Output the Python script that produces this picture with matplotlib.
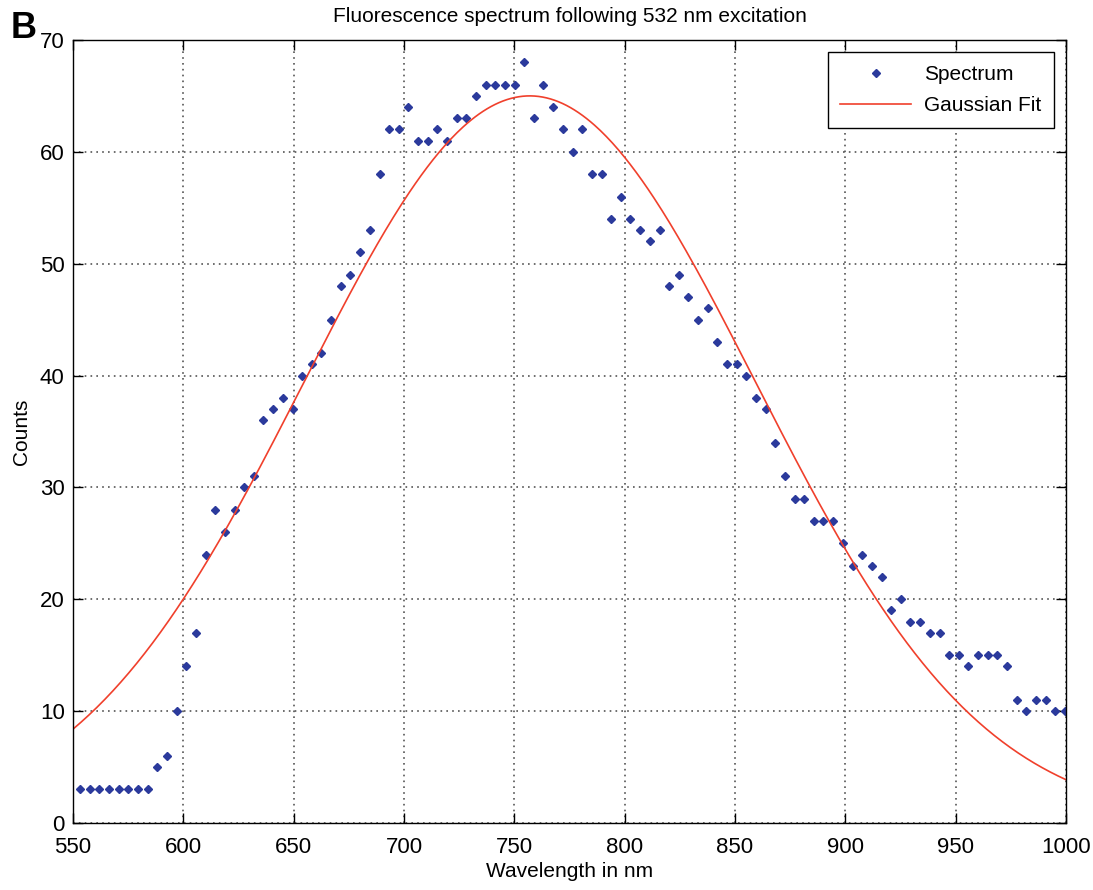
import numpy as np
import matplotlib
matplotlib.use('Agg')
import matplotlib.pyplot as plt

plt.rcParams['font.family'] = ['Liberation Sans', 'DejaVu Sans']

wavelength = [553.2, 557.6, 562.0, 566.3, 570.7, 575.1, 579.5, 583.8, 588.2, 592.6,
              597.0, 601.3, 605.7, 610.1, 614.5, 618.8, 623.2, 627.6, 632.0, 636.3,
              640.7, 645.1, 649.5, 653.8, 658.2, 662.6, 667.0, 671.4, 675.7, 680.1,
              684.5, 688.9, 693.2, 697.6, 702.0, 706.4, 710.7, 715.1, 719.5, 723.9,
              728.2, 732.6, 737.0, 741.4, 745.7, 750.1, 754.5, 758.9, 763.2, 767.6,
              772.0, 776.4, 780.7, 785.1, 789.5, 793.9, 798.2, 802.6, 807.0, 811.4,
              815.8, 820.1, 824.5, 828.9, 833.3, 837.6, 842.0, 846.4, 850.8, 855.1,
              859.5, 863.9, 868.3, 872.6, 877.0, 881.4, 885.8, 890.1, 894.5, 898.9,
              903.3, 907.6, 912.0, 916.4, 920.8, 925.2, 929.5, 933.9, 938.3, 942.7,
              947.0, 951.4, 955.8, 960.2, 964.5, 968.9, 973.3, 977.7, 982.0, 986.4,
              990.8, 995.2, 999.5]
counts = [3, 3, 3, 3, 3, 3, 3, 3, 5, 6,
          10, 14, 17, 24, 28, 26, 28, 30, 31, 36,
          37, 38, 37, 40, 41, 42, 45, 48, 49, 51,
          53, 58, 62, 62, 64, 61, 61, 62, 61, 63,
          63, 65, 66, 66, 66, 66, 68, 63, 66, 64,
          62, 60, 62, 58, 58, 54, 56, 54, 53, 52,
          53, 48, 49, 47, 45, 46, 43, 41, 41, 40,
          38, 37, 34, 31, 29, 29, 27, 27, 27, 25,
          23, 24, 23, 22, 19, 20, 18, 18, 17, 17,
          15, 15, 14, 15, 15, 15, 14, 11, 10, 11,
          11, 10, 10]

# gaussian fit parameters
fit_amp = 65.0
fit_center = 757.0
fit_sigma = 102.3

x_fit = np.linspace(550, 1000, 500)
y_fit = fit_amp * np.exp(-(x_fit - fit_center)**2 / (2 * fit_sigma**2))

fig = plt.figure(figsize=(10.93, 8.90), dpi=100)
ax = fig.add_axes([0.0668, 0.0753, 0.9085, 0.8798])

ax.plot(wavelength, counts, linestyle='none', marker='D', markersize=3.6,
        color='#2b3a9c', label='Spectrum')
ax.plot(x_fit, y_fit, color='#f0402c', linewidth=1.2, label='Gaussian Fit')

ax.set_xlim(550, 1000)
ax.set_ylim(0, 70)
ax.set_xticks(np.arange(550, 1001, 50))
ax.set_yticks(np.arange(0, 71, 10))
ax.tick_params(direction='in', length=7, width=1, top=True, right=True,
               labelsize=16)
ax.tick_params(axis='x', pad=10)
ax.tick_params(axis='y', pad=6)
ax.grid(True, linestyle=(0, (1, 2.5)), color='#555555', linewidth=1.2)
for s in ax.spines.values():
    s.set_linewidth(1.0)

ax.set_xlabel('Wavelength in nm', fontsize=15, labelpad=3)
ax.set_ylabel('Counts', fontsize=15, labelpad=6)
ax.set_title('Fluorescence spectrum following 532 nm excitation', fontsize=15, pad=13)

leg = ax.legend(loc='upper right', fontsize=15, fancybox=False, framealpha=1,
                edgecolor='black', handlelength=3.4, borderaxespad=0.6,
                labelspacing=0.6, borderpad=0.6, handletextpad=0.6)
leg.get_frame().set_linewidth(1.0)

fig.text(0.010, 0.988, 'B', fontsize=26, fontweight='bold', va='top', ha='left')

fig.savefig('out.png', dpi=100)
